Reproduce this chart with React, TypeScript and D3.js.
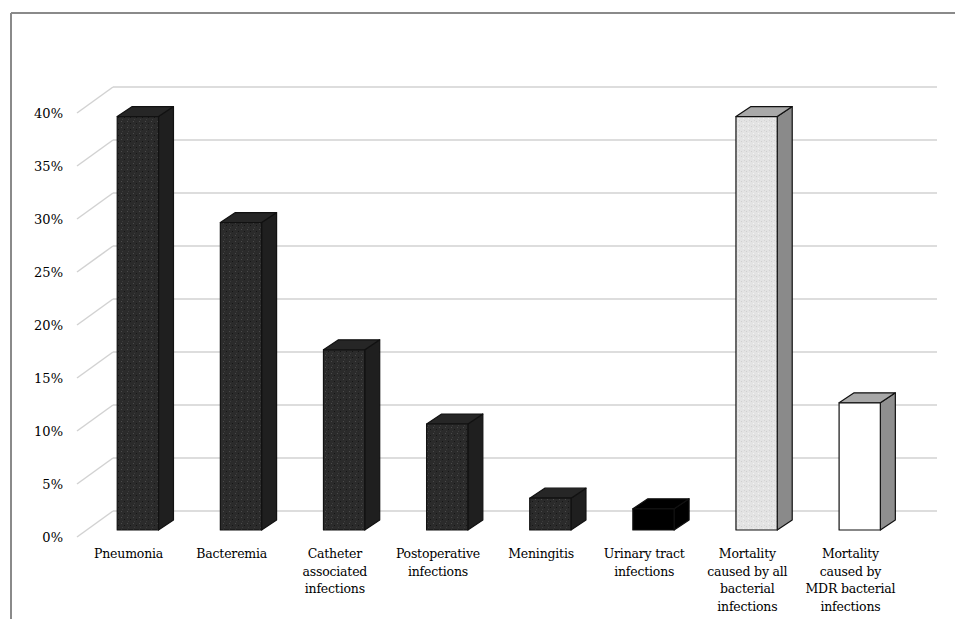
import React from "react";
import * as d3 from "d3";

const categories: string[][] = [
  ["Pneumonia"],
  ["Bacteremia"],
  ["Catheter", "associated", "infections"],
  ["Postoperative", "infections"],
  ["Meningitis"],
  ["Urinary tract", "infections"],
  ["Mortality", "caused by all", "bacterial", "infections"],
  ["Mortality", "caused by", "MDR bacterial", "infections"],
];
const values: number[] = [39, 29, 17, 10, 3, 2, 39, 12];
const styles: string[] = ["dark", "dark", "dark", "dark", "dark", "black", "light", "white"];
const yTicks: number[] = [0, 5, 10, 15, 20, 25, 30, 35, 40];

const W = 955;
const H = 619;
const FONT = "DejaVu Serif, serif";

const palettes: Record<string, { front: string; side: string; top: string }> = {
  dark: { front: "url(#stipDark)", side: "#1f1f1f", top: "#262626" },
  black: { front: "#000", side: "#000", top: "#000" },
  light: { front: "url(#stipLight)", side: "#8a8a8a", top: "#a9a9a9" },
  white: { front: "#ffffff", side: "#8f8f8f", top: "#a8a8a8" },
};

export default function App() {
  const keys = categories.map((c, i) => String(i));
  const x = d3.scaleBand<string>().domain(keys).range([77, 902]).paddingInner(0).paddingOuter(0);
  const y = d3.scaleLinear().domain([0, 40]).range([530, 106]);
  const bw = x.bandwidth();
  const barW = bw * 0.4;
  const barOff = bw * 0.39;
  const dX = 15, dY = -10; // bar depth
  const wX = 36, wY = -26; // wall depth from front plane
  const planeFront = 7; // front plane below bar front
  const wallRight = 937;

  return (
    <svg width={W} height={H} style={{ position: "absolute", left: 0, top: 0, background: "#fff" }}>
      <defs>
        <pattern id="stipDark" width="6" height="6" patternUnits="userSpaceOnUse">
          <rect width="6" height="6" fill="#2b2b2b" />
          <rect x="1" y="1" width="1" height="1" fill="#4a4a4a" />
          <rect x="4" y="3" width="1" height="1" fill="#151515" />
          <rect x="2" y="5" width="1" height="1" fill="#3d3d3d" />
        </pattern>
        <pattern id="stipLight" width="5" height="5" patternUnits="userSpaceOnUse">
          <rect width="5" height="5" fill="#e3e3e3" />
          <rect x="1" y="1" width="1" height="1" fill="#cfcfcf" />
          <rect x="3" y="3" width="1" height="1" fill="#f3f3f3" />
          <rect x="4" y="0" width="1" height="1" fill="#d4d4d4" />
        </pattern>
      </defs>
      {/* frame */}
      <line x1={11} y1={13} x2={W} y2={13} stroke="#8a8a8a" strokeWidth={2} />
      <line x1={11} y1={13} x2={11} y2={H} stroke="#8a8a8a" strokeWidth={2} />

      {/* gridlines: diagonal from front plane plus back wall */}
      {yTicks.map((t) => {
        const yf = y(t) + planeFront;
        return (
          <g key={t}>
            <line x1={77} y1={yf} x2={77 + wX} y2={yf + wY} stroke="#d2d2d2" strokeWidth={1.5} />
            <line x1={77 + wX} y1={yf + wY} x2={wallRight} y2={yf + wY} stroke="#d2d2d2" strokeWidth={1.5} />
            <text
              x={63}
              y={yf}
              dy="0.35em"
              textAnchor="end"
              style={{ fontFamily: FONT, fontSize: "13px" }}
              fill="#000"
            >
              {t}%
            </text>
          </g>
        );
      })}

      {/* bars */}
      {values.map((v, i) => {
        const p = palettes[styles[i]];
        const x0 = (x(keys[i]) as number) + barOff;
        const x1 = x0 + barW;
        const yt = y(v);
        const yb = y(0);
        const top = `M${x0},${yt} L${x0 + dX},${yt + dY} L${x1 + dX},${yt + dY} L${x1},${yt} Z`;
        const side = `M${x1},${yt} L${x1 + dX},${yt + dY} L${x1 + dX},${yb + dY} L${x1},${yb} Z`;
        return (
          <g key={i} stroke="#111" strokeWidth={1.2} strokeLinejoin="round">
            <path d={side} fill={p.side} />
            <path d={top} fill={p.top} />
            <rect x={x0} y={yt} width={barW} height={yb - yt} fill={p.front} />
          </g>
        );
      })}

      {/* category labels */}
      {categories.map((lines, i) => {
        const cx = (x(keys[i]) as number) + bw / 2;
        return (
          <text
            key={i}
            textAnchor="middle"
            style={{ fontFamily: FONT, fontSize: "12.5px", letterSpacing: "-0.2px" }}
            fill="#000"
          >
            {lines.map((l, j) => (
              <tspan key={j} x={cx} y={558 + j * 17.5}>
                {l}
              </tspan>
            ))}
          </text>
        );
      })}
    </svg>
  );
}
